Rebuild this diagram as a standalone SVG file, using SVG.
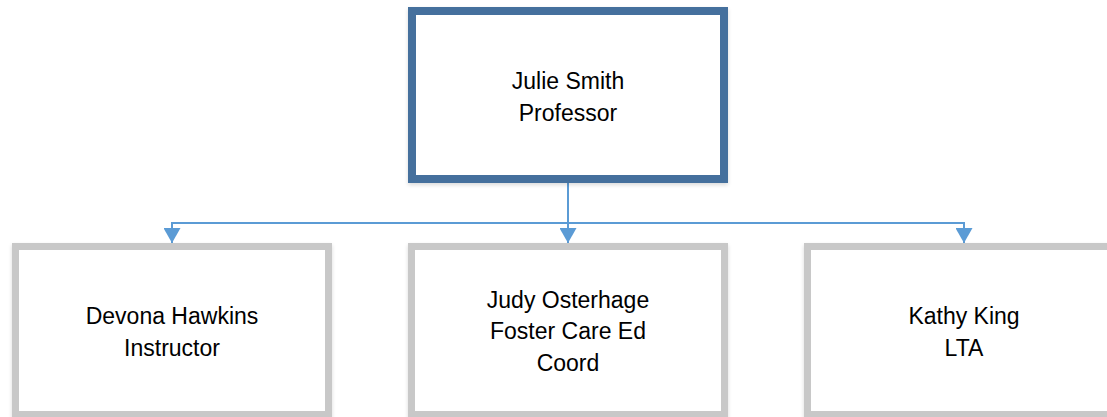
<svg xmlns="http://www.w3.org/2000/svg" width="1107" height="417" viewBox="0 0 1107 417">
  <defs>
    <style>
      .lbl { font-family: "Liberation Sans", Arial, sans-serif; font-size: 23px; fill: #000; text-anchor: middle; }
      .top { fill: #fff; stroke: #44709D; stroke-width: 8; }
      .sub { fill: #fff; stroke: #C8C8C8; stroke-width: 7; }
      .conn { fill: none; stroke: #5B9BD5; stroke-width: 2; }
    </style>
    <marker id="arr" markerUnits="userSpaceOnUse" markerWidth="15" markerHeight="17" viewBox="0 -8.5 15 17" refX="15" refY="0" orient="auto">
      <path d="M0,-8.5 L15,0 L0,8.5 z" fill="#5B9BD5"/>
    </marker>
    <filter id="sh" x="-5%" y="-5%" width="110%" height="115%">
      <feGaussianBlur in="SourceAlpha" stdDeviation="2"/>
      <feOffset dx="0" dy="2"/>
      <feComponentTransfer><feFuncA type="linear" slope="0.15"/></feComponentTransfer>
      <feMerge><feMergeNode/><feMergeNode in="SourceGraphic"/></feMerge>
    </filter>
  </defs>
  <rect width="1107" height="417" fill="#fff"/>
  <g id="connectors">
    <path class="conn" d="M568,183 V223 H172 V243" marker-end="url(#arr)"/>
    <path class="conn" d="M568,183 V243" marker-end="url(#arr)"/>
    <path class="conn" d="M568,223 H964 V243" marker-end="url(#arr)"/>
  </g>
  <g id="node-julie">
    <rect class="top" x="412" y="11" width="312" height="168" filter="url(#sh)"/>
    <text class="lbl" x="568" y="89">Julie Smith</text>
    <text class="lbl" x="568" y="121">Professor</text>
  </g>
  <g id="node-devona">
    <rect class="sub" x="15.5" y="246.5" width="313" height="168" filter="url(#sh)"/>
    <text class="lbl" x="172" y="324">Devona Hawkins</text>
    <text class="lbl" x="172" y="356">Instructor</text>
  </g>
  <g id="node-judy">
    <rect class="sub" x="411.5" y="246.5" width="313" height="168" filter="url(#sh)"/>
    <text class="lbl" x="568" y="308">Judy Osterhage</text>
    <text class="lbl" x="568" y="339">Foster Care Ed</text>
    <text class="lbl" x="568" y="371">Coord</text>
  </g>
  <g id="node-kathy">
    <rect class="sub" x="807.5" y="246.5" width="313" height="168" filter="url(#sh)"/>
    <text class="lbl" x="964" y="324">Kathy King</text>
    <text class="lbl" x="964" y="356">LTA</text>
  </g>
</svg>
